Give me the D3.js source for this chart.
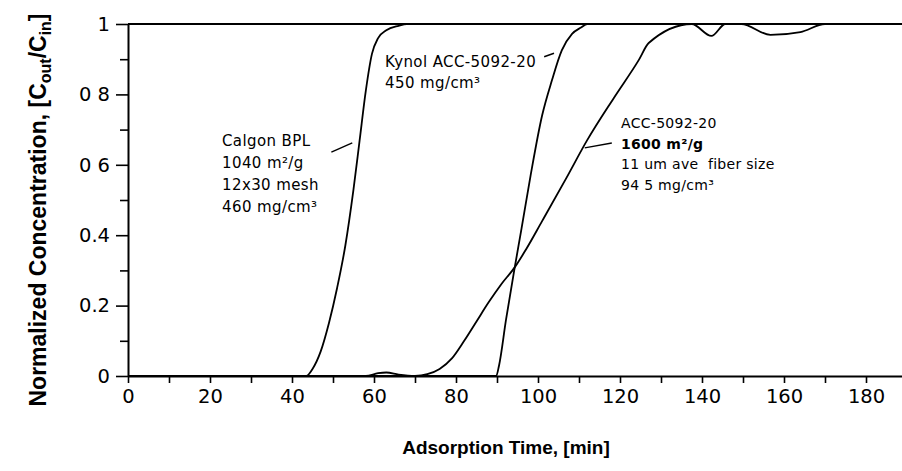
<!DOCTYPE html>
<html>
<head>
<meta charset="utf-8">
<script src="https://cdn.jsdelivr.net/npm/d3@7"></script>
<style>
  body { margin: 0; background: #fff; }
  svg { display: block; }
  text { fill: #000; white-space: pre; }
</style>
</head>
<body>
<svg id="chart" width="902" height="471"></svg>
<script>
// Breakthrough curves: normalized outlet concentration vs. adsorption time
const xTickValues = [0, 20, 40, 60, 80, 100, 120, 140, 160, 180];
const yTickValues = [0, 0.2, 0.4, 0.6, 0.8, 1];
const yTickLabels = ["0", "0.2", "0.4", "0 6", "0 8", "1"];

// Calgon BPL granular carbon
const calgonTime = [0, 43.5, 45, 47, 49, 51, 53, 55, 56.5, 58, 59.5, 61, 63, 66, 68, 190];
const calgonConc = [0, 0, 0.02, 0.07, 0.15, 0.25, 0.37, 0.53, 0.67, 0.81, 0.915, 0.96, 0.982, 0.995, 1, 1];

// Kynol ACC-5092-20 packed at 450 mg/cm3
const kynolTime = [0, 89.8, 90.5, 92.2, 94.2, 96, 98.2, 101, 103.4, 105.8, 108.3, 110.5, 112, 190];
const kynolConc = [0, 0, 0.03, 0.16, 0.3, 0.42, 0.57, 0.74, 0.84, 0.925, 0.972, 0.99, 1, 1];

// ACC-5092-20 at 94.5 mg/cm3
const accTime = [0, 58, 61, 63, 66, 70, 73, 76, 79, 82, 85, 88, 91, 94.4, 97, 101, 106.8, 112, 118.5, 124.6, 127, 137.5, 142.3, 145.7, 149.6, 156.7, 164, 170, 190];
const accConc = [0, 0, 0.008, 0.01, 0.004, 0, 0.005, 0.02, 0.05, 0.1, 0.155, 0.21, 0.26, 0.31, 0.358, 0.44, 0.56, 0.67, 0.79, 0.898, 0.946, 1, 0.966, 1, 1, 0.969, 0.977, 1, 1];

const calgonLabel = ["Calgon BPL", "1040 m\u00B2/g", "12x30 mesh", "460 mg/cm\u00B3"];
const kynolLabel = ["Kynol ACC-5092-20", "450 mg/cm\u00B3"];
const accLabel = ["ACC-5092-20", "1600 m\u00B2/g", "11 um ave  fiber size", "94 5 mg/cm\u00B3"];

const svg = d3.select("#chart");

const x = d3.scaleLinear().domain([0, 190]).range([128, 907]);
const y = d3.scaleLinear().domain([0, 1]).range([376, 24]);

const tickFont = "'DejaVu Sans', Verdana, sans-serif";

// x axis: ticks every 10 min, labels every 20
const xAxis = svg.append("g")
  .attr("transform", `translate(0,${y(0)})`)
  .call(d3.axisBottom(x)
    .tickValues(d3.range(0, 191, 10))
    .tickSize(7)
    .tickSizeOuter(0)
    .tickPadding(6)
    .tickFormat(d => xTickValues.includes(d) ? String(d) : ""));
xAxis.select(".domain").attr("stroke-width", 2);
xAxis.selectAll(".tick line").attr("stroke-width", 1.6);
xAxis.selectAll(".tick text")
  .attr("font-family", tickFont).attr("font-size", 19.5).attr("fill", "#000");

// y axis: minor ticks at 0.1, labelled major ticks at 0.2
const yMinor = svg.append("g")
  .attr("transform", `translate(${x(0)},0)`)
  .call(d3.axisLeft(y).tickValues(d3.range(1, 10, 2).map(v => v / 10)).tickSize(8).tickFormat(""));
yMinor.select(".domain").remove();
yMinor.selectAll(".tick line").attr("stroke-width", 1.6);

const yAxis = svg.append("g")
  .attr("transform", `translate(${x(0)},0)`)
  .call(d3.axisLeft(y)
    .tickValues(yTickValues)
    .tickSize(12)
    .tickSizeOuter(0)
    .tickPadding(6)
    .tickFormat((d, i) => yTickLabels[i]));
yAxis.select(".domain").attr("stroke-width", 2);
yAxis.selectAll(".tick line").attr("stroke-width", 1.6);
yAxis.selectAll(".tick text")
  .attr("font-family", tickFont).attr("font-size", 19.5).attr("fill", "#000");

// top border at C/Cin = 1
svg.append("line")
  .attr("x1", x(0)).attr("x2", x(190))
  .attr("y1", y(1)).attr("y2", y(1))
  .attr("stroke", "#000").attr("stroke-width", 2);

// curves
const line = d3.line()
  .x(d => x(d[0]))
  .y(d => y(d[1]))
  .curve(d3.curveMonotoneX);

const series = [
  d3.zip(calgonTime, calgonConc),
  d3.zip(kynolTime, kynolConc),
  d3.zip(accTime, accConc)
];

svg.append("g").selectAll("path")
  .data(series)
  .join("path")
  .attr("d", line)
  .attr("fill", "none")
  .attr("stroke", "#000")
  .attr("stroke-width", 1.8)
  .attr("stroke-linejoin", "round");

// leader lines from labels to curves
const leaders = [
  [[49.6, 0.636], [54.7, 0.662]],
  [[101.5, 0.907], [103.9, 0.917]],
  [[111.4, 0.648], [118.0, 0.662]]
];
svg.append("g").selectAll("line")
  .data(leaders)
  .join("line")
  .attr("x1", d => x(d[0][0])).attr("y1", d => y(d[0][1]))
  .attr("x2", d => x(d[1][0])).attr("y2", d => y(d[1][1]))
  .attr("stroke", "#000").attr("stroke-width", 1.4);

// annotation blocks
const annFont = "'DejaVu Sans', Verdana, sans-serif";
function block(lines, left, top, step, size, spacing, boldIdx) {
  const g = svg.append("g");
  g.selectAll("text")
    .data(lines)
    .join("text")
    .attr("x", left)
    .attr("y", (d, i) => top + i * step)
    .attr("font-family", annFont)
    .attr("font-size", size)
    .attr("letter-spacing", spacing)
    .attr("font-weight", (d, i) => boldIdx.includes(i) ? "bold" : "normal")
    .text(d => d);
}
block(calgonLabel, 222, 146, 22, 15, 0.4, []);
block(kynolLabel, 385, 67, 21, 15, 0.4, []);
block(accLabel, 621, 128, 20.5, 14, 0.3, [1]);

// axis titles
svg.append("text")
  .attr("x", 506).attr("y", 454)
  .attr("text-anchor", "middle")
  .attr("font-family", "'Liberation Sans', Arial, sans-serif")
  .attr("font-weight", "bold")
  .attr("font-size", 19)
  .text("Adsorption Time, [min]");

const yTitle = svg.append("text")
  .attr("transform", "translate(46,210) rotate(-90)")
  .attr("text-anchor", "middle")
  .attr("font-family", "'Liberation Sans', Arial, sans-serif")
  .attr("font-weight", "bold")
  .attr("font-size", 23);
yTitle.append("tspan").text("Normalized Concentration, [C");
yTitle.append("tspan").attr("font-size", 16).attr("dy", 5).text("out");
yTitle.append("tspan").attr("dy", -5).text("/C");
yTitle.append("tspan").attr("font-size", 16).attr("dy", 5).text("in");
yTitle.append("tspan").attr("dy", -5).text("]");
</script>
</body>
</html>
